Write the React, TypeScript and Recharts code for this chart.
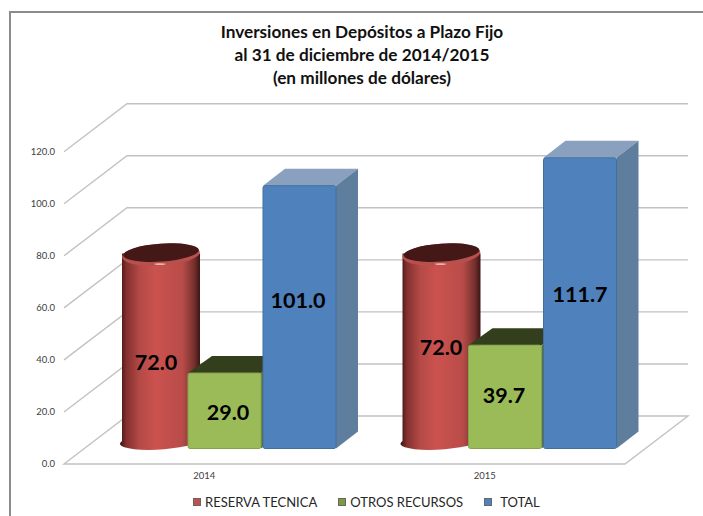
import { BarChart, Bar, XAxis, YAxis, CartesianGrid, Legend, LabelList } from 'recharts'

const years = ['2014', '2015']
const seriesNames = ['RESERVA TECNICA', 'OTROS RECURSOS', 'TOTAL']
const reservaTecnica = [72.0, 72.0]
const otrosRecursos = [29.0, 39.7]
const total = [101.0, 111.7]
const yTicks = [0, 20, 40, 60, 80, 100, 120]
const titleLines = [
  'Inversiones en Depósitos a Plazo Fijo',
  'al 31 de diciembre de 2014/2015',
  '(en millones de dólares)',
]

const chartData = years.map((year, i) => ({
  year,
  reserva: reservaTecnica[i],
  otros: otrosRecursos[i],
  total: total[i],
}))

// depth of the fake 3D floor
const BACK_DX = 63
const BACK_DY = 48
const FONT = 'Lato, Carlito, Calibri, sans-serif'

// horizontal grid line drawn as a wall line: front slant + back wall line
const wallLine = (props: any) => {
  const { x1, x2, y1, index } = props
  const isFloor = y1 > 460
  let d = `M${x1},${y1} L${x1 + BACK_DX},${y1 - BACK_DY} L${x2 + BACK_DX},${y1 - BACK_DY}`
  if (isFloor) d += ` L${x2},${y1} Z`
  return <path key={index} d={d} fill="none" stroke="#c2c2c2" strokeWidth={1.4} />
}

const Cylinder = (props: any) => {
  const { x, y, height } = props
  const left = x + 27
  const w = 78
  const rx = w / 2
  const ry = 10
  const cx = left + rx
  const top = y - 23
  const bottom = y + height - 23
  return (
    <g>
      <path
        d={`M${left},${top} L${left},${bottom} A${rx},8 -4 0 0 ${left + w},${bottom} L${left + w},${top} Z`}
        fill="url(#cylBody)"
      />
      <ellipse cx={cx} cy={top + 1} rx={rx} ry={ry + 1} transform={`rotate(-4 ${cx} ${top + 1})`} fill="#b8504e" />
      <ellipse cx={cx} cy={top - 1} rx={rx - 1} ry={ry - 1} transform={`rotate(-4 ${cx} ${top - 1})`} fill="#431816" />
      <ellipse cx={cx - 1} cy={top + 10.5} rx={6} ry={0.9} fill="#f0b5b0" />
    </g>
  )
}

const makeBox = (dx: number, depthX: number, depthY: number, front: string, edge: string, topFace: string, side: string) => (props: any) => {
  const { x, y, width, height } = props
  const l = x + dx
  const t = y - 15.5
  const r = l + width
  const b = t + height
  return (
    <g>
      <path d={`M${l},${t} L${l + depthX},${t - depthY} L${r + depthX},${t - depthY} L${r},${t} Z`} fill={topFace} />
      <path d={`M${r},${t} L${r + depthX},${t - depthY} L${r + depthX},${b - depthY} L${r},${b} Z`} fill={side} />
      <rect x={l} y={t} width={width} height={height} rx={2} fill={front} stroke={edge} strokeWidth={1} />
    </g>
  )
}

const GreenBox = makeBox(20, 24, 17, '#9bbb59', '#86a34a', '#333f1c', '#5d7035')
const BlueBox = makeBox(22, 22, 17, '#4f81bd', '#41709f', '#8aa0bf', '#5f7d9d')

// label centres, these were placed by hand in the original so they are not bar centres
const valueLabel = (centersX: number[], centersY: number[]) => (props: any) => {
  const { index, value } = props
  return (
    <text
      x={centersX[index]}
      y={centersY[index]}
      textAnchor="middle"
      dominantBaseline="central"
      fontFamily={FONT}
      fontWeight={700}
      fontSize={21.5}
      fill="#000"
    >
      {Number(value).toFixed(1)}
    </text>
  )
}

const legendContent = ({ payload }: any) => {
  // keep series order, the legend sorts by name otherwise
  const items = [...(payload || [])].sort((a: any, b: any) => seriesNames.indexOf(a.value) - seriesNames.indexOf(b.value))
  return (
    <div style={{ display: 'flex', fontFamily: FONT, fontSize: 13, color: '#262626', lineHeight: '18px', whiteSpace: 'nowrap' }}>
      {items.map((item: any, i: number) => (
        <div key={item.value} style={{ display: 'flex', alignItems: 'center', marginRight: 21 }}>
          <span
            style={{
              display: 'inline-block',
              width: 8,
              height: 8,
              background: item.color,
              border: '1px solid #666',
              boxSizing: 'border-box',
              marginRight: i === 2 ? 8 : 4,
            }}
          />
          {item.value}
        </div>
      ))}
    </div>
  )
}

export default function App() {
  return (
    <div style={{ position: 'absolute', left: 0, top: 0, width: 703, height: 516, background: '#fff', overflow: 'hidden' }}>
      <div style={{ position: 'absolute', left: 9, top: 11, right: 0, bottom: 0, borderLeft: '2px solid #8c8c8c', borderTop: '2px solid #8c8c8c' }} />
      <div
        style={{
          position: 'absolute',
          left: 0,
          top: 20,
          width: 724,
          textAlign: 'center',
          fontFamily: FONT,
          fontWeight: 700,
          fontSize: 17.2,
          lineHeight: '23px',
          color: '#111',
        }}
      >
        {titleLines.map((line) => (
          <div key={line}>{line}</div>
        ))}
      </div>
      <div style={{ position: 'absolute', left: 0, top: 0 }}>
        <BarChart
          width={703}
          height={516}
          data={chartData}
          barSize={73}
          barGap={0}
          barCategoryGap={0}
          margin={{ top: 151.7, right: 78, bottom: 22, left: 0 }}
        >
          <defs>
            <linearGradient id="cylBody" x1="0" y1="0" x2="1" y2="0">
              <stop offset="0" stopColor="#3d1413" />
              <stop offset="0.08" stopColor="#83302e" />
              <stop offset="0.25" stopColor="#b54a47" />
              <stop offset="0.45" stopColor="#cb524e" />
              <stop offset="0.78" stopColor="#b84c49" />
              <stop offset="0.93" stopColor="#74302d" />
              <stop offset="1" stopColor="#3d1413" />
            </linearGradient>
          </defs>
          <CartesianGrid vertical={false} horizontal={wallLine} />
          <XAxis
            dataKey="year"
            axisLine={false}
            tickLine={false}
            tickSize={0}
            tickMargin={8}
            height={30}
            tick={{ fontSize: 9.5, fill: '#404040', fontFamily: FONT }}
          />
          <YAxis
            domain={[0, 120]}
            ticks={yTicks}
            width={64}
            axisLine={false}
            tickLine={false}
            tickSize={0}
            tickMargin={9}
            tickFormatter={(v: number) => v.toFixed(1)}
            tick={{ fontSize: 9.5, fill: '#404040', fontFamily: FONT }}
          />
          <Bar dataKey="reserva" name={seriesNames[0]} fill="#c0504d" shape={Cylinder} isAnimationActive={false}>
            <LabelList dataKey="reserva" content={valueLabel([156, 441], [362, 347])} />
          </Bar>
          <Bar dataKey="otros" name={seriesNames[1]} fill="#7f9a3e" shape={GreenBox} isAnimationActive={false}>
            <LabelList dataKey="otros" content={valueLabel([228, 504], [412, 395])} />
          </Bar>
          <Bar dataKey="total" name={seriesNames[2]} fill="#4f81bd" shape={BlueBox} isAnimationActive={false}>
            <LabelList dataKey="total" content={valueLabel([298, 580], [300, 294])} />
          </Bar>
          <Legend
            layout="horizontal"
            verticalAlign="middle"
            align="center"
            content={legendContent}
            wrapperStyle={{ left: 193, top: 493, width: 400 }}
          />
        </BarChart>
      </div>
    </div>
  )
}
